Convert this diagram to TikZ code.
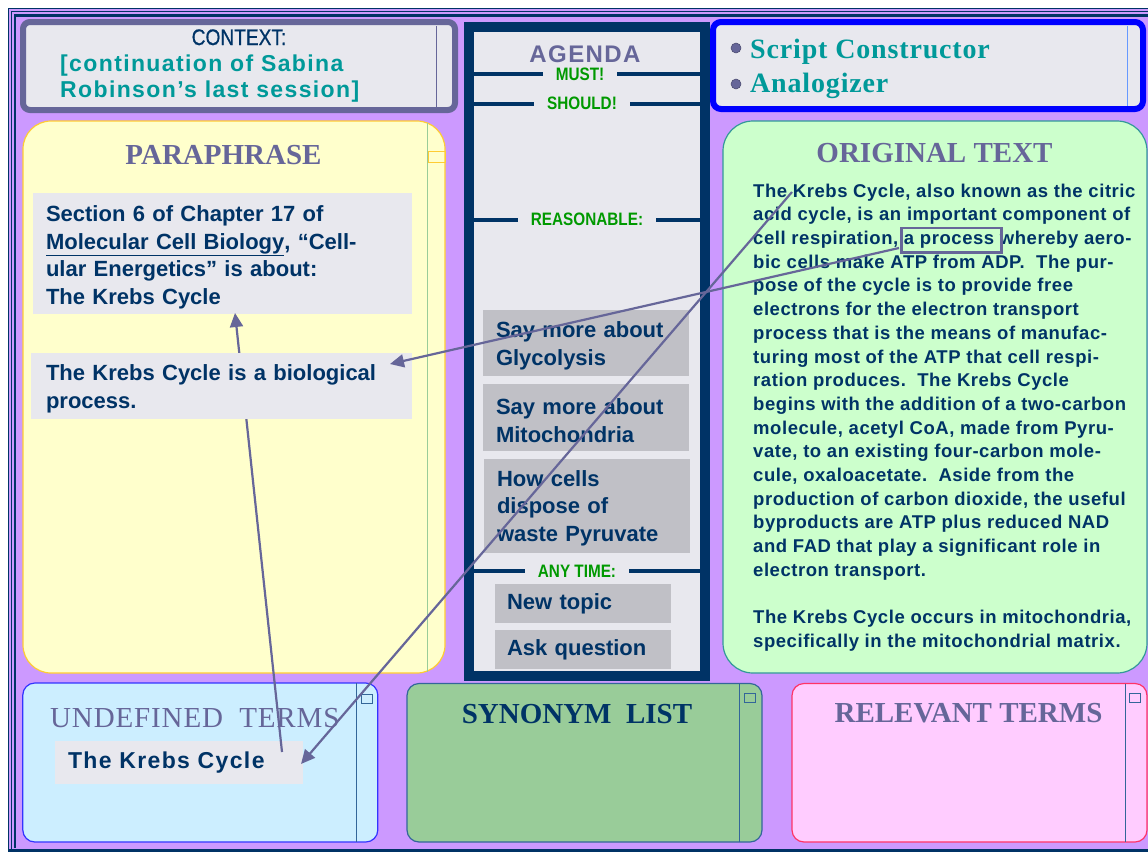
\documentclass[tikz,border=0pt]{standalone}
\usepackage{fontspec}
\setmainfont{Liberation Sans}
\newfontfamily\tms{Liberation Serif}
\newfontfamily\nar[FakeStretch=0.85]{Liberation Sans}
\newfontfamily\narb[FakeStretch=0.85,FakeBold=0.6]{Liberation Sans}
\newfontfamily\sps[LetterSpace=6]{Liberation Sans}
\newfontfamily\spb[LetterSpace=3]{Liberation Sans}
\newfontfamily\tmsp[LetterSpace=3]{Liberation Serif}
\usetikzlibrary{arrows.meta}
\definecolor{lav}{HTML}{CC99FF}
\definecolor{navy}{HTML}{003366}
\definecolor{slate}{HTML}{666699}
\definecolor{tealc}{HTML}{009999}
\definecolor{grn}{HTML}{009900}
\definecolor{pane}{HTML}{E8E8EE}
\definecolor{gbox}{HTML}{C0C0C6}
\definecolor{yel}{HTML}{FFFFCC}
\definecolor{yelb}{HTML}{FFCC33}
\definecolor{mint}{HTML}{CCFFCC}
\definecolor{mintb}{HTML}{339999}
\definecolor{sky}{HTML}{CCEEFF}
\definecolor{skyb}{HTML}{3333FF}
\definecolor{syn}{HTML}{99CC99}
\definecolor{synb}{HTML}{336699}
\definecolor{pinkf}{HTML}{FFCCFF}
\definecolor{pinkb}{HTML}{FF3366}
\definecolor{lblue}{HTML}{6699FF}
\newcommand{\lift}[1]{\rule{0pt}{#1}}
\tikzset{
  panel/.style={rounded corners=#1, line width=1.2pt, inner sep=0pt},
  graybox/.style={fill=pane, inner ysep=0pt, align=left, text=navy,
     font=\fontsize{22}{27.5}\selectfont\bfseries},
  itembox/.style={fill=gbox, inner ysep=0pt, align=left, text=navy,
     font=\fontsize{22}{27.5}\selectfont\bfseries},
  heading/.style={text=slate, inner sep=0pt, font=\tms\fontsize{29}{32}\selectfont\bfseries},
  seclabel/.style={text=grn, inner xsep=13pt, inner ysep=0pt, font=\nar\fontsize{18}{20}\selectfont\bfseries},
  secline/.style={navy, line width=4pt},
  link/.style={draw=slate, line width=2.2pt, -{Triangle[length=14pt,width=13pt]}},
  tinysq/.style={draw=synb, line width=0.9pt, minimum width=11pt, minimum height=9pt, inner sep=0pt},
}
\begin{document}
\begin{tikzpicture}[x=1pt,y=-1pt]
\useasboundingbox (0,0) rectangle (1148,852);
\fill[white] (0,0) rectangle (1148,852);
\fill[lav] (8,8) rectangle (1148,852);
% outer frame stripes
\draw[navy, line width=1.3pt] (1148,8.6) -- (8.6,8.6) -- (8.6,852);
\draw[navy, line width=1.2pt] (1148,11.8) -- (11.8,11.8) -- (11.8,849);
\draw[navy, line width=2.4pt] (1148,15.5) -- (15.2,15.5) -- (15.2,848);
\draw[navy, line width=3pt] (8,850.5) -- (1148,850.5);

% CONTEXT box
\node[draw=slate, fill=pane, line width=6pt, rounded corners=7pt, minimum width=432pt, minimum height=88pt, inner sep=0pt] (ctx) at (239,66) {};
\draw[slate, line width=0.8pt] (436,26) -- (436,107);
\node[anchor=base, text=navy, inner sep=0pt, font=\narb\fontsize{22.5}{24}\selectfont] (ctxh) at (239,45) {CONTEXT:};
\node[anchor=base west, text=tealc, inner sep=0pt, font=\sps\fontsize{23}{26}\selectfont\bfseries] (ctx1) at (60,71) {[continuation of Sabina};
\node[anchor=base west, text=tealc, inner sep=0pt, font=\sps\fontsize{23}{26}\selectfont\bfseries] (ctx2) at (60,97) {Robinson’s last session]};

% tools box
\node[draw=blue, fill=pane, line width=6pt, rounded corners=8pt, minimum width=430pt, minimum height=87pt, inner sep=0pt] (tools) at (928,65.5) {};
\draw[lblue, line width=0.8pt] (1127,26) -- (1127,106);
\node[circle, fill=slate, draw=slate!70!black, line width=0.5pt, minimum size=10pt, inner sep=0pt] (bul1) at (736,48) {};
\node[circle, fill=slate, draw=slate!70!black, line width=0.5pt, minimum size=10pt, inner sep=0pt] (bul2) at (736,84) {};
\node[anchor=base west, text=tealc, inner sep=0pt, font=\tmsp\fontsize{28}{30}\selectfont\bfseries] (tool1) at (750,58) {Script Constructor};
\node[anchor=base west, text=tealc, inner sep=0pt, font=\tmsp\fontsize{28}{30}\selectfont\bfseries] (tool2) at (750,92) {Analogizer};

% AGENDA column
\node[draw=navy, fill=pane, line width=10pt, minimum width=236pt, minimum height=649pt, inner sep=0pt] (agenda) at (587,351.5) {};
\node[anchor=base, text=slate, inner sep=0pt, font=\sps\fontsize{24}{26}\selectfont\bfseries] (agh) at (585,62) {AGENDA};
\node[seclabel] (must) at (580,74) {MUST!};
\node[seclabel] (should) at (582,103.5) {SHOULD!};
\node[seclabel] (reas) at (587,219.5) {REASONABLE:};
\node[seclabel] (any) at (577,571) {ANY TIME:};
\foreach \l in {must,should,reas,any}{
  \draw[secline] (\l.west -| 474,0) -- (\l.west);
  \draw[secline] (\l.east) -- (\l.east -| 701,0);
}
\node[itembox, minimum width=206pt, minimum height=66pt, text width=180pt, inner xsep=13pt] (it1) at (586,343) {\lift{22pt}Say more about\\Glycolysis};
\node[itembox, minimum width=206pt, minimum height=67pt, text width=180pt, inner xsep=13pt] (it2) at (586,417.5) {\lift{22pt}Say more about\\Mitochondria};
\node[itembox, minimum width=206pt, minimum height=94pt, text width=180pt, inner xsep=13pt] (it3) at (587,506) {\lift{20pt}How cells\\dispose of\\waste Pyruvate};
\node[itembox, minimum width=176pt, minimum height=39pt, text width=152pt, inner xsep=12pt] (it4) at (583,603.5) {New topic};
\node[itembox, minimum width=176pt, minimum height=39pt, text width=152pt, inner xsep=12pt] (it5) at (583,649.5) {Ask question};

% PARAPHRASE panel
\node[panel=28pt, draw=yelb, fill=yel, minimum width=422pt, minimum height=552pt] (para) at (234,397) {};
\draw[syn, line width=0.9pt] (427,122.5) -- (427,672);
\node[draw=yelb, line width=0.9pt, minimum width=17pt, minimum height=11pt, inner sep=0pt] (parasq) at (436.5,156.5) {};
\node[heading, anchor=base] (parah) at (223.5,164) {PARAPHRASE};
\node[graybox, minimum width=379pt, minimum height=121pt, text width=353pt, inner xsep=13pt] (p1) at (222.5,253.5)
  {\lift{24pt}Section 6 of Chapter 17 of\\\underline{Molecular Cell Biology}, “Cell-\\ular Energetics” is about:\\The Krebs Cycle};

% ORIGINAL TEXT panel
\node[panel=30pt, draw=mintb, fill=mint, minimum width=424pt, minimum height=552pt] (orig) at (935,397) {};
\node[heading, anchor=base] (origh) at (934.5,162) {ORIGINAL TEXT};
\node[anchor=north west, inner sep=0pt, align=left, text=navy, font=\spb\fontsize{18.5}{23.7}\selectfont\bfseries] (otext) at (753,183.5)
  {The Krebs Cycle, also known as the citric\\
   acid cycle, is an important component of\\
   cell respiration, a process whereby aero-\\
   bic cells make ATP from ADP.\ \ The pur-\\
   pose of the cycle is to provide free\\
   electrons for the electron transport\\
   process that is the means of manufac-\\
   turing most of the ATP that cell respi-\\
   ration produces.\ \ The Krebs Cycle\\
   begins with the addition of a two-carbon\\
   molecule, acetyl CoA, made from Pyru-\\
   vate, to an existing four-carbon mole-\\
   cule, oxaloacetate.\ \ Aside from the\\
   production of carbon dioxide, the useful\\
   byproducts are ATP plus reduced NAD\\
   and FAD that play a significant role in\\
   electron transport.\\[23.7pt]
   The Krebs Cycle occurs in mitochondria,\\
   specifically in the mitochondrial matrix.};
\node[draw=slate, line width=2.6pt, minimum width=100pt, minimum height=24.5pt, inner sep=0pt] (proc) at (951.4,240.3) {};

% bottom panels
\node[panel=12pt, draw=skyb, fill=sky, minimum width=355pt, minimum height=159pt] (undef) at (200.3,762.5) {};
\draw[synb, line width=0.9pt] (356,683) -- (356,842);
\node[tinysq] (usq) at (366.5,698.5) {};
\node[anchor=base west, text=slate, inner sep=0pt, font=\tmsp\fontsize{29}{32}\selectfont] (undefh) at (50,727) {UNDEFINED\ \ TERMS};
\node[graybox, minimum width=248pt, minimum height=43pt, text width=222pt, inner xsep=13pt, font=\sps\fontsize{23}{26}\selectfont\bfseries] (ukc) at (179,762.5) {The Krebs Cycle};

\node[panel=12pt, draw=synb, fill=syn, minimum width=355pt, minimum height=158.5pt] (synp) at (584.5,762.75) {};
\draw[synb, line width=0.9pt] (739,683.5) -- (739,842);
\node[tinysq] (ssq) at (750,698) {};
\node[heading, anchor=base, text=navy] (synh) at (577,723) {SYNONYM\ \ LIST};

\node[panel=12pt, draw=pinkb, fill=pinkf, minimum width=355pt, minimum height=158.5pt] (relp) at (969.5,762.75) {};
\draw[synb, line width=0.9pt] (1125,683.5) -- (1125,842);
\node[tinysq] (rsq) at (1135,698) {};
\node[heading, anchor=base] (relh) at (968.5,722) {RELEVANT TERMS};

% arrow 1 (behind the second paraphrase box)
\coordinate (a1s) at (282,752);
\coordinate (a1e) at (235,313);
\draw[link] (a1s) -- (a1e);

\node[graybox, minimum width=381pt, minimum height=66pt, text width=351pt, inner xsep=15pt] (p2) at (221.5,386)
  {\lift{22pt}The Krebs Cycle is a biological\\process.};

% arrows 2 and 3
\coordinate (a2s) at (899,248);
\coordinate (a2e) at (390,364);
\draw[link] (a2s) -- (a2e);
\coordinate (a3s) at (792,192);
\coordinate (a3e) at (301,764);
\draw[link] (a3s) -- (a3e);
\end{tikzpicture}
\end{document}
